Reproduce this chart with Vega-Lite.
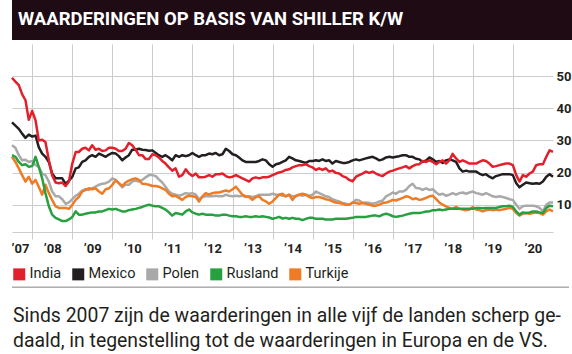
{
  "$schema": "https://vega.github.io/schema/vega-lite/v6.json",
  "padding": 0,
  "spacing": 4,
  "background": "#ffffff",
  "resolve": {"legend": {"color": "independent"}},
  "config": {
    "view": {"stroke": null},
    "font": "Roboto, Liberation Sans, sans-serif",
    "legend": {
      "orient": "bottom", "direction": "horizontal", "title": null,
      "symbolType": "square", "symbolSize": 144, "symbolStrokeWidth": 0,
      "labelFontSize": 14.5, "labelColor": "#231f20", "labelOffset": 3,
      "columnPadding": 9, "offset": 12, "padding": 0
    }
  },
  "datasets": {
    "India": [
      {"t":"2007-07","v":49.5},{"t":"2007-08","v":48.3},{"t":"2007-09","v":47.2},{"t":"2007-10","v":44.4},{"t":"2007-11","v":42.5},{"t":"2007-12","v":36.4},
      {"t":"2008-01","v":39.2},{"t":"2008-02","v":36.2},{"t":"2008-03","v":30.0},{"t":"2008-04","v":30.2},{"t":"2008-05","v":29.5},{"t":"2008-06","v":23.8},{"t":"2008-07","v":19.2},{"t":"2008-08","v":16.9},{"t":"2008-09","v":16.7},{"t":"2008-10","v":16.9},{"t":"2008-11","v":15.8},{"t":"2008-12","v":17.2},
      {"t":"2009-01","v":22.8},{"t":"2009-02","v":26.4},{"t":"2009-03","v":26.4},{"t":"2009-04","v":27.4},{"t":"2009-05","v":27.7},{"t":"2009-06","v":26.9},{"t":"2009-07","v":28.5},{"t":"2009-08","v":27.1},{"t":"2009-09","v":27.4},{"t":"2009-10","v":26.7},{"t":"2009-11","v":26.9},{"t":"2009-12","v":27.7},
      {"t":"2010-01","v":27.7},{"t":"2010-02","v":27.4},{"t":"2010-03","v":26.7},{"t":"2010-04","v":26.7},{"t":"2010-05","v":27.4},{"t":"2010-06","v":29.2},{"t":"2010-07","v":28.5},{"t":"2010-08","v":27.1},{"t":"2010-09","v":25.4},{"t":"2010-10","v":25.4},{"t":"2010-11","v":24.2},{"t":"2010-12","v":24.2},
      {"t":"2011-01","v":25.7},{"t":"2011-02","v":25.4},{"t":"2011-03","v":24.7},{"t":"2011-04","v":23.6},{"t":"2011-05","v":22.8},{"t":"2011-06","v":21.6},{"t":"2011-07","v":20.6},{"t":"2011-08","v":21.3},{"t":"2011-09","v":18.7},{"t":"2011-10","v":19.2},{"t":"2011-11","v":21.0},{"t":"2011-12","v":19.7},
      {"t":"2012-01","v":18.9},{"t":"2012-02","v":19.7},{"t":"2012-03","v":18.5},{"t":"2012-04","v":18.5},{"t":"2012-05","v":18.7},{"t":"2012-06","v":19.2},{"t":"2012-07","v":18.7},{"t":"2012-08","v":19.5},{"t":"2012-09","v":19.5},{"t":"2012-10","v":19.7},{"t":"2012-11","v":18.9},{"t":"2012-12","v":18.5},
      {"t":"2013-01","v":18.7},{"t":"2013-02","v":19.2},{"t":"2013-03","v":18.7},{"t":"2013-04","v":18.2},{"t":"2013-05","v":17.7},{"t":"2013-06","v":17.2},{"t":"2013-07","v":18.2},{"t":"2013-08","v":18.5},{"t":"2013-09","v":18.2},{"t":"2013-10","v":18.5},{"t":"2013-11","v":18.5},{"t":"2013-12","v":18.7},
      {"t":"2014-01","v":19.2},{"t":"2014-02","v":19.7},{"t":"2014-03","v":20.0},{"t":"2014-04","v":20.3},{"t":"2014-05","v":20.8},{"t":"2014-06","v":21.0},{"t":"2014-07","v":21.6},{"t":"2014-08","v":22.0},{"t":"2014-09","v":22.3},{"t":"2014-10","v":22.3},{"t":"2014-11","v":22.6},{"t":"2014-12","v":22.0},
      {"t":"2015-01","v":21.6},{"t":"2015-02","v":20.8},{"t":"2015-03","v":21.3},{"t":"2015-04","v":20.8},{"t":"2015-05","v":21.3},{"t":"2015-06","v":20.3},{"t":"2015-07","v":20.6},{"t":"2015-08","v":19.9},{"t":"2015-09","v":19.7},{"t":"2015-10","v":18.9},{"t":"2015-11","v":18.5},{"t":"2015-12","v":17.7},
      {"t":"2016-01","v":17.3},{"t":"2016-02","v":18.7},{"t":"2016-03","v":19.2},{"t":"2016-04","v":19.7},{"t":"2016-05","v":20.3},{"t":"2016-06","v":19.9},{"t":"2016-07","v":20.3},{"t":"2016-08","v":19.7},{"t":"2016-09","v":19.2},{"t":"2016-10","v":18.9},{"t":"2016-11","v":19.7},{"t":"2016-12","v":20.3},
      {"t":"2017-01","v":20.6},{"t":"2017-02","v":21.0},{"t":"2017-03","v":21.3},{"t":"2017-04","v":21.6},{"t":"2017-05","v":22.0},{"t":"2017-06","v":21.3},{"t":"2017-07","v":22.0},{"t":"2017-08","v":22.5},{"t":"2017-09","v":22.6},{"t":"2017-10","v":23.6},{"t":"2017-11","v":23.3},{"t":"2017-12","v":23.8},
      {"t":"2018-01","v":23.3},{"t":"2018-02","v":22.6},{"t":"2018-03","v":23.3},{"t":"2018-04","v":23.8},{"t":"2018-05","v":22.8},{"t":"2018-06","v":23.8},{"t":"2018-07","v":25.8},{"t":"2018-08","v":24.4},{"t":"2018-09","v":23.3},{"t":"2018-10","v":23.8},{"t":"2018-11","v":23.3},{"t":"2018-12","v":22.8},
      {"t":"2019-01","v":22.8},{"t":"2019-02","v":22.8},{"t":"2019-03","v":23.3},{"t":"2019-04","v":23.8},{"t":"2019-05","v":23.6},{"t":"2019-06","v":22.8},{"t":"2019-07","v":21.8},{"t":"2019-08","v":22.0},{"t":"2019-09","v":22.3},{"t":"2019-10","v":22.6},{"t":"2019-11","v":22.8},{"t":"2019-12","v":22.8},
      {"t":"2020-01","v":22.3},{"t":"2020-02","v":19.2},{"t":"2020-03","v":17.2},{"t":"2020-04","v":19.2},{"t":"2020-05","v":18.7},{"t":"2020-06","v":19.7},{"t":"2020-07","v":20.3},{"t":"2020-08","v":22.3},{"t":"2020-09","v":22.6},{"t":"2020-10","v":22.6},{"t":"2020-11","v":24.9},{"t":"2020-12","v":26.9},
      {"t":"2021-01","v":26.4}
    ],
    "Mexico": [
      {"t":"2007-07","v":35.6},{"t":"2007-08","v":34.6},{"t":"2007-09","v":33.6},{"t":"2007-10","v":32.1},{"t":"2007-11","v":30.8},{"t":"2007-12","v":31.8},
      {"t":"2008-01","v":31.2},{"t":"2008-02","v":31.5},{"t":"2008-03","v":27.9},{"t":"2008-04","v":25.9},{"t":"2008-05","v":24.9},{"t":"2008-06","v":23.3},{"t":"2008-07","v":19.7},{"t":"2008-08","v":18.2},{"t":"2008-09","v":18.2},{"t":"2008-10","v":18.2},{"t":"2008-11","v":16.5},{"t":"2008-12","v":17.5},
      {"t":"2009-01","v":18.7},{"t":"2009-02","v":21.3},{"t":"2009-03","v":21.6},{"t":"2009-04","v":23.3},{"t":"2009-05","v":23.8},{"t":"2009-06","v":24.9},{"t":"2009-07","v":25.4},{"t":"2009-08","v":24.9},{"t":"2009-09","v":25.9},{"t":"2009-10","v":25.4},{"t":"2009-11","v":24.9},{"t":"2009-12","v":25.6},
      {"t":"2010-01","v":26.1},{"t":"2010-02","v":25.9},{"t":"2010-03","v":25.1},{"t":"2010-04","v":23.8},{"t":"2010-05","v":24.7},{"t":"2010-06","v":25.4},{"t":"2010-07","v":27.1},{"t":"2010-08","v":27.1},{"t":"2010-09","v":27.4},{"t":"2010-10","v":27.1},{"t":"2010-11","v":27.0},{"t":"2010-12","v":26.8},
      {"t":"2011-01","v":26.9},{"t":"2011-02","v":26.1},{"t":"2011-03","v":25.4},{"t":"2011-04","v":24.9},{"t":"2011-05","v":25.4},{"t":"2011-06","v":24.7},{"t":"2011-07","v":23.8},{"t":"2011-08","v":25.4},{"t":"2011-09","v":24.9},{"t":"2011-10","v":25.4},{"t":"2011-11","v":25.1},{"t":"2011-12","v":25.4},
      {"t":"2012-01","v":26.1},{"t":"2012-02","v":25.4},{"t":"2012-03","v":24.9},{"t":"2012-04","v":25.4},{"t":"2012-05","v":25.4},{"t":"2012-06","v":25.9},{"t":"2012-07","v":25.7},{"t":"2012-08","v":26.1},{"t":"2012-09","v":25.4},{"t":"2012-10","v":25.7},{"t":"2012-11","v":27.4},{"t":"2012-12","v":26.7},
      {"t":"2013-01","v":25.7},{"t":"2013-02","v":25.4},{"t":"2013-03","v":24.7},{"t":"2013-04","v":23.8},{"t":"2013-05","v":23.3},{"t":"2013-06","v":23.3},{"t":"2013-07","v":23.3},{"t":"2013-08","v":23.3},{"t":"2013-09","v":23.6},{"t":"2013-10","v":24.1},{"t":"2013-11","v":23.8},{"t":"2013-12","v":22.6},
      {"t":"2014-01","v":21.8},{"t":"2014-02","v":22.6},{"t":"2014-03","v":22.8},{"t":"2014-04","v":23.3},{"t":"2014-05","v":23.8},{"t":"2014-06","v":24.9},{"t":"2014-07","v":24.4},{"t":"2014-08","v":23.8},{"t":"2014-09","v":23.6},{"t":"2014-10","v":23.3},{"t":"2014-11","v":23.0},{"t":"2014-12","v":23.6},
      {"t":"2015-01","v":23.6},{"t":"2015-02","v":23.8},{"t":"2015-03","v":23.6},{"t":"2015-04","v":24.1},{"t":"2015-05","v":23.6},{"t":"2015-06","v":23.8},{"t":"2015-07","v":22.8},{"t":"2015-08","v":23.6},{"t":"2015-09","v":23.3},{"t":"2015-10","v":23.0},{"t":"2015-11","v":23.0},{"t":"2015-12","v":23.3},
      {"t":"2016-01","v":23.8},{"t":"2016-02","v":24.1},{"t":"2016-03","v":23.8},{"t":"2016-04","v":24.1},{"t":"2016-05","v":24.4},{"t":"2016-06","v":24.7},{"t":"2016-07","v":24.9},{"t":"2016-08","v":24.4},{"t":"2016-09","v":23.8},{"t":"2016-10","v":24.1},{"t":"2016-11","v":24.7},{"t":"2016-12","v":24.9},
      {"t":"2017-01","v":24.7},{"t":"2017-02","v":24.9},{"t":"2017-03","v":25.1},{"t":"2017-04","v":25.4},{"t":"2017-05","v":25.4},{"t":"2017-06","v":24.9},{"t":"2017-07","v":24.9},{"t":"2017-08","v":24.3},{"t":"2017-09","v":24.1},{"t":"2017-10","v":23.3},{"t":"2017-11","v":23.8},{"t":"2017-12","v":24.7},
      {"t":"2018-01","v":24.1},{"t":"2018-02","v":23.3},{"t":"2018-03","v":23.6},{"t":"2018-04","v":23.0},{"t":"2018-05","v":23.8},{"t":"2018-06","v":24.1},{"t":"2018-07","v":23.8},{"t":"2018-08","v":23.3},{"t":"2018-09","v":21.3},{"t":"2018-10","v":20.3},{"t":"2018-11","v":20.6},{"t":"2018-12","v":20.3},
      {"t":"2019-01","v":20.3},{"t":"2019-02","v":20.3},{"t":"2019-03","v":19.7},{"t":"2019-04","v":19.2},{"t":"2019-05","v":19.5},{"t":"2019-06","v":18.7},{"t":"2019-07","v":18.2},{"t":"2019-08","v":18.9},{"t":"2019-09","v":19.2},{"t":"2019-10","v":19.5},{"t":"2019-11","v":19.5},{"t":"2019-12","v":19.5},
      {"t":"2020-01","v":19.2},{"t":"2020-02","v":16.7},{"t":"2020-03","v":15.4},{"t":"2020-04","v":16.2},{"t":"2020-05","v":16.9},{"t":"2020-06","v":16.7},{"t":"2020-07","v":16.5},{"t":"2020-08","v":16.7},{"t":"2020-09","v":16.5},{"t":"2020-10","v":17.2},{"t":"2020-11","v":18.7},{"t":"2020-12","v":19.5},
      {"t":"2021-01","v":18.7}
    ],
    "Polen": [
      {"t":"2007-07","v":28.5},{"t":"2007-08","v":27.7},{"t":"2007-09","v":25.4},{"t":"2007-10","v":23.8},{"t":"2007-11","v":24.0},{"t":"2007-12","v":23.3},
      {"t":"2008-01","v":23.6},{"t":"2008-02","v":22.3},{"t":"2008-03","v":21.8},{"t":"2008-04","v":19.7},{"t":"2008-05","v":19.2},{"t":"2008-06","v":17.2},{"t":"2008-07","v":14.1},{"t":"2008-08","v":12.6},{"t":"2008-09","v":12.6},{"t":"2008-10","v":11.7},{"t":"2008-11","v":10.3},{"t":"2008-12","v":10.7},
      {"t":"2009-01","v":11.7},{"t":"2009-02","v":12.8},{"t":"2009-03","v":13.4},{"t":"2009-04","v":14.4},{"t":"2009-05","v":14.8},{"t":"2009-06","v":14.6},{"t":"2009-07","v":15.1},{"t":"2009-08","v":15.6},{"t":"2009-09","v":16.2},{"t":"2009-10","v":16.5},{"t":"2009-11","v":16.7},{"t":"2009-12","v":17.2},
      {"t":"2010-01","v":18.2},{"t":"2010-02","v":17.7},{"t":"2010-03","v":16.7},{"t":"2010-04","v":15.4},{"t":"2010-05","v":16.2},{"t":"2010-06","v":16.2},{"t":"2010-07","v":17.2},{"t":"2010-08","v":17.5},{"t":"2010-09","v":17.2},{"t":"2010-10","v":17.7},{"t":"2010-11","v":18.5},{"t":"2010-12","v":19.2},
      {"t":"2011-01","v":19.2},{"t":"2011-02","v":18.9},{"t":"2011-03","v":17.9},{"t":"2011-04","v":16.9},{"t":"2011-05","v":15.6},{"t":"2011-06","v":14.1},{"t":"2011-07","v":13.4},{"t":"2011-08","v":13.1},{"t":"2011-09","v":12.8},{"t":"2011-10","v":13.1},{"t":"2011-11","v":13.6},{"t":"2011-12","v":13.4},
      {"t":"2012-01","v":13.6},{"t":"2012-02","v":13.1},{"t":"2012-03","v":11.7},{"t":"2012-04","v":12.4},{"t":"2012-05","v":12.6},{"t":"2012-06","v":12.6},{"t":"2012-07","v":12.6},{"t":"2012-08","v":12.8},{"t":"2012-09","v":12.6},{"t":"2012-10","v":12.6},{"t":"2012-11","v":13.1},{"t":"2012-12","v":12.8},
      {"t":"2013-01","v":12.6},{"t":"2013-02","v":12.8},{"t":"2013-03","v":12.6},{"t":"2013-04","v":12.8},{"t":"2013-05","v":12.4},{"t":"2013-06","v":12.6},{"t":"2013-07","v":12.4},{"t":"2013-08","v":12.6},{"t":"2013-09","v":13.1},{"t":"2013-10","v":13.1},{"t":"2013-11","v":13.1},{"t":"2013-12","v":13.1},
      {"t":"2014-01","v":13.4},{"t":"2014-02","v":13.1},{"t":"2014-03","v":13.1},{"t":"2014-04","v":12.8},{"t":"2014-05","v":12.6},{"t":"2014-06","v":13.1},{"t":"2014-07","v":12.6},{"t":"2014-08","v":12.6},{"t":"2014-09","v":13.1},{"t":"2014-10","v":12.8},{"t":"2014-11","v":13.1},{"t":"2014-12","v":12.8},
      {"t":"2015-01","v":13.1},{"t":"2015-02","v":14.1},{"t":"2015-03","v":13.6},{"t":"2015-04","v":13.1},{"t":"2015-05","v":12.6},{"t":"2015-06","v":12.4},{"t":"2015-07","v":11.7},{"t":"2015-08","v":11.3},{"t":"2015-09","v":11.0},{"t":"2015-10","v":10.5},{"t":"2015-11","v":10.3},{"t":"2015-12","v":10.0},
      {"t":"2016-01","v":10.7},{"t":"2016-02","v":11.5},{"t":"2016-03","v":11.3},{"t":"2016-04","v":10.5},{"t":"2016-05","v":10.7},{"t":"2016-06","v":10.5},{"t":"2016-07","v":10.3},{"t":"2016-08","v":10.5},{"t":"2016-09","v":11.0},{"t":"2016-10","v":11.3},{"t":"2016-11","v":12.6},{"t":"2016-12","v":13.1},
      {"t":"2017-01","v":13.8},{"t":"2017-02","v":13.4},{"t":"2017-03","v":14.1},{"t":"2017-04","v":14.1},{"t":"2017-05","v":14.6},{"t":"2017-06","v":15.8},{"t":"2017-07","v":16.5},{"t":"2017-08","v":15.2},{"t":"2017-09","v":15.1},{"t":"2017-10","v":14.6},{"t":"2017-11","v":15.1},{"t":"2017-12","v":14.6},
      {"t":"2018-01","v":14.8},{"t":"2018-02","v":13.8},{"t":"2018-03","v":13.1},{"t":"2018-04","v":13.4},{"t":"2018-05","v":12.8},{"t":"2018-06","v":13.1},{"t":"2018-07","v":13.6},{"t":"2018-08","v":13.1},{"t":"2018-09","v":13.6},{"t":"2018-10","v":13.8},{"t":"2018-11","v":13.4},{"t":"2018-12","v":13.8},
      {"t":"2019-01","v":14.1},{"t":"2019-02","v":13.6},{"t":"2019-03","v":13.4},{"t":"2019-04","v":13.1},{"t":"2019-05","v":13.6},{"t":"2019-06","v":13.1},{"t":"2019-07","v":12.6},{"t":"2019-08","v":12.4},{"t":"2019-09","v":12.6},{"t":"2019-10","v":12.4},{"t":"2019-11","v":12.1},{"t":"2019-12","v":11.7},
      {"t":"2020-01","v":11.5},{"t":"2020-02","v":10.0},{"t":"2020-03","v":8.7},{"t":"2020-04","v":9.5},{"t":"2020-05","v":9.7},{"t":"2020-06","v":9.7},{"t":"2020-07","v":9.7},{"t":"2020-08","v":9.5},{"t":"2020-09","v":9.0},{"t":"2020-10","v":7.9},{"t":"2020-11","v":10.0},{"t":"2020-12","v":10.7},
      {"t":"2021-01","v":10.7}
    ],
    "Rusland": [
      {"t":"2007-07","v":25.4},{"t":"2007-08","v":24.9},{"t":"2007-09","v":23.3},{"t":"2007-10","v":22.3},{"t":"2007-11","v":22.6},{"t":"2007-12","v":21.8},
      {"t":"2008-01","v":22.0},{"t":"2008-02","v":24.9},{"t":"2008-03","v":21.8},{"t":"2008-04","v":18.2},{"t":"2008-05","v":13.6},{"t":"2008-06","v":9.5},{"t":"2008-07","v":6.9},{"t":"2008-08","v":5.9},{"t":"2008-09","v":5.4},{"t":"2008-10","v":4.9},{"t":"2008-11","v":4.9},{"t":"2008-12","v":5.4},
      {"t":"2009-01","v":6.2},{"t":"2009-02","v":7.9},{"t":"2009-03","v":6.9},{"t":"2009-04","v":6.9},{"t":"2009-05","v":7.2},{"t":"2009-06","v":7.4},{"t":"2009-07","v":7.6},{"t":"2009-08","v":7.6},{"t":"2009-09","v":7.9},{"t":"2009-10","v":7.9},{"t":"2009-11","v":8.3},{"t":"2009-12","v":8.7},
      {"t":"2010-01","v":8.5},{"t":"2010-02","v":8.7},{"t":"2010-03","v":8.3},{"t":"2010-04","v":7.9},{"t":"2010-05","v":7.9},{"t":"2010-06","v":8.3},{"t":"2010-07","v":8.5},{"t":"2010-08","v":8.7},{"t":"2010-09","v":9.0},{"t":"2010-10","v":9.3},{"t":"2010-11","v":9.7},{"t":"2010-12","v":10.0},
      {"t":"2011-01","v":9.7},{"t":"2011-02","v":9.5},{"t":"2011-03","v":9.5},{"t":"2011-04","v":9.0},{"t":"2011-05","v":8.5},{"t":"2011-06","v":7.6},{"t":"2011-07","v":6.6},{"t":"2011-08","v":7.4},{"t":"2011-09","v":7.2},{"t":"2011-10","v":6.9},{"t":"2011-11","v":7.9},{"t":"2011-12","v":8.5},
      {"t":"2012-01","v":7.6},{"t":"2012-02","v":7.2},{"t":"2012-03","v":6.9},{"t":"2012-04","v":7.2},{"t":"2012-05","v":6.9},{"t":"2012-06","v":6.9},{"t":"2012-07","v":6.9},{"t":"2012-08","v":6.6},{"t":"2012-09","v":6.6},{"t":"2012-10","v":6.9},{"t":"2012-11","v":6.9},{"t":"2012-12","v":6.6},
      {"t":"2013-01","v":6.4},{"t":"2013-02","v":6.4},{"t":"2013-03","v":6.2},{"t":"2013-04","v":6.2},{"t":"2013-05","v":6.4},{"t":"2013-06","v":6.2},{"t":"2013-07","v":6.2},{"t":"2013-08","v":6.4},{"t":"2013-09","v":6.2},{"t":"2013-10","v":6.4},{"t":"2013-11","v":6.2},{"t":"2013-12","v":6.0},
      {"t":"2014-01","v":5.6},{"t":"2014-02","v":5.9},{"t":"2014-03","v":6.2},{"t":"2014-04","v":5.7},{"t":"2014-05","v":5.9},{"t":"2014-06","v":5.6},{"t":"2014-07","v":5.9},{"t":"2014-08","v":5.6},{"t":"2014-09","v":5.6},{"t":"2014-10","v":5.2},{"t":"2014-11","v":5.6},{"t":"2014-12","v":5.9},
      {"t":"2015-01","v":5.9},{"t":"2015-02","v":5.6},{"t":"2015-03","v":5.6},{"t":"2015-04","v":5.6},{"t":"2015-05","v":5.4},{"t":"2015-06","v":5.4},{"t":"2015-07","v":5.4},{"t":"2015-08","v":5.6},{"t":"2015-09","v":5.6},{"t":"2015-10","v":5.6},{"t":"2015-11","v":5.6},{"t":"2015-12","v":5.8},
      {"t":"2016-01","v":5.9},{"t":"2016-02","v":6.2},{"t":"2016-03","v":6.2},{"t":"2016-04","v":6.2},{"t":"2016-05","v":6.2},{"t":"2016-06","v":6.4},{"t":"2016-07","v":6.6},{"t":"2016-08","v":6.6},{"t":"2016-09","v":6.4},{"t":"2016-10","v":6.9},{"t":"2016-11","v":7.2},{"t":"2016-12","v":6.9},
      {"t":"2017-01","v":6.4},{"t":"2017-02","v":6.2},{"t":"2017-03","v":6.4},{"t":"2017-04","v":6.6},{"t":"2017-05","v":6.9},{"t":"2017-06","v":7.2},{"t":"2017-07","v":7.4},{"t":"2017-08","v":7.4},{"t":"2017-09","v":7.4},{"t":"2017-10","v":7.6},{"t":"2017-11","v":7.9},{"t":"2017-12","v":7.9},
      {"t":"2018-01","v":8.3},{"t":"2018-02","v":8.3},{"t":"2018-03","v":8.5},{"t":"2018-04","v":8.3},{"t":"2018-05","v":8.5},{"t":"2018-06","v":8.7},{"t":"2018-07","v":8.7},{"t":"2018-08","v":8.7},{"t":"2018-09","v":8.7},{"t":"2018-10","v":8.7},{"t":"2018-11","v":8.7},{"t":"2018-12","v":8.7},
      {"t":"2019-01","v":8.7},{"t":"2019-02","v":9.0},{"t":"2019-03","v":9.0},{"t":"2019-04","v":8.9},{"t":"2019-05","v":9.0},{"t":"2019-06","v":9.0},{"t":"2019-07","v":9.0},{"t":"2019-08","v":9.0},{"t":"2019-09","v":9.3},{"t":"2019-10","v":9.5},{"t":"2019-11","v":9.5},{"t":"2019-12","v":9.7},
      {"t":"2020-01","v":9.3},{"t":"2020-02","v":7.9},{"t":"2020-03","v":6.9},{"t":"2020-04","v":7.6},{"t":"2020-05","v":7.4},{"t":"2020-06","v":7.6},{"t":"2020-07","v":7.9},{"t":"2020-08","v":7.9},{"t":"2020-09","v":7.6},{"t":"2020-10","v":7.4},{"t":"2020-11","v":9.0},{"t":"2020-12","v":9.7},
      {"t":"2021-01","v":9.5}
    ],
    "Turkije": [
      {"t":"2007-07","v":24.9},{"t":"2007-08","v":23.3},{"t":"2007-09","v":21.3},{"t":"2007-10","v":19.2},{"t":"2007-11","v":17.2},{"t":"2007-12","v":18.7},
      {"t":"2008-01","v":16.5},{"t":"2008-02","v":17.7},{"t":"2008-03","v":15.6},{"t":"2008-04","v":13.1},{"t":"2008-05","v":16.2},{"t":"2008-06","v":13.6},{"t":"2008-07","v":11.5},{"t":"2008-08","v":9.5},{"t":"2008-09","v":9.0},{"t":"2008-10","v":9.0},{"t":"2008-11","v":9.0},{"t":"2008-12","v":8.7},
      {"t":"2009-01","v":10.0},{"t":"2009-02","v":11.5},{"t":"2009-03","v":12.4},{"t":"2009-04","v":14.1},{"t":"2009-05","v":14.6},{"t":"2009-06","v":15.1},{"t":"2009-07","v":14.8},{"t":"2009-08","v":15.1},{"t":"2009-09","v":14.1},{"t":"2009-10","v":13.4},{"t":"2009-11","v":14.8},{"t":"2009-12","v":15.1},
      {"t":"2010-01","v":16.2},{"t":"2010-02","v":17.5},{"t":"2010-03","v":16.7},{"t":"2010-04","v":15.8},{"t":"2010-05","v":16.9},{"t":"2010-06","v":17.5},{"t":"2010-07","v":17.9},{"t":"2010-08","v":18.2},{"t":"2010-09","v":17.7},{"t":"2010-10","v":16.5},{"t":"2010-11","v":16.4},{"t":"2010-12","v":16.2},
      {"t":"2011-01","v":15.8},{"t":"2011-02","v":15.8},{"t":"2011-03","v":15.6},{"t":"2011-04","v":15.1},{"t":"2011-05","v":14.6},{"t":"2011-06","v":13.4},{"t":"2011-07","v":12.6},{"t":"2011-08","v":12.8},{"t":"2011-09","v":12.1},{"t":"2011-10","v":11.5},{"t":"2011-11","v":12.4},{"t":"2011-12","v":12.8},
      {"t":"2012-01","v":12.6},{"t":"2012-02","v":12.4},{"t":"2012-03","v":11.0},{"t":"2012-04","v":12.6},{"t":"2012-05","v":13.6},{"t":"2012-06","v":13.1},{"t":"2012-07","v":13.6},{"t":"2012-08","v":13.8},{"t":"2012-09","v":13.8},{"t":"2012-10","v":14.1},{"t":"2012-11","v":14.4},{"t":"2012-12","v":14.1},
      {"t":"2013-01","v":14.8},{"t":"2013-02","v":15.6},{"t":"2013-03","v":14.4},{"t":"2013-04","v":13.1},{"t":"2013-05","v":12.6},{"t":"2013-06","v":12.4},{"t":"2013-07","v":11.5},{"t":"2013-08","v":12.4},{"t":"2013-09","v":12.6},{"t":"2013-10","v":11.5},{"t":"2013-11","v":11.0},{"t":"2013-12","v":10.3},
      {"t":"2014-01","v":11.0},{"t":"2014-02","v":12.1},{"t":"2014-03","v":13.1},{"t":"2014-04","v":13.4},{"t":"2014-05","v":12.6},{"t":"2014-06","v":13.1},{"t":"2014-07","v":11.5},{"t":"2014-08","v":12.8},{"t":"2014-09","v":13.1},{"t":"2014-10","v":13.4},{"t":"2014-11","v":13.1},{"t":"2014-12","v":12.4},
      {"t":"2015-01","v":12.1},{"t":"2015-02","v":12.4},{"t":"2015-03","v":12.4},{"t":"2015-04","v":12.1},{"t":"2015-05","v":11.7},{"t":"2015-06","v":11.5},{"t":"2015-07","v":11.0},{"t":"2015-08","v":10.7},{"t":"2015-09","v":10.5},{"t":"2015-10","v":10.3},{"t":"2015-11","v":10.0},{"t":"2015-12","v":10.0},
      {"t":"2016-01","v":10.7},{"t":"2016-02","v":10.5},{"t":"2016-03","v":10.3},{"t":"2016-04","v":10.5},{"t":"2016-05","v":10.3},{"t":"2016-06","v":10.0},{"t":"2016-07","v":9.7},{"t":"2016-08","v":9.7},{"t":"2016-09","v":10.0},{"t":"2016-10","v":10.5},{"t":"2016-11","v":10.7},{"t":"2016-12","v":11.0},
      {"t":"2017-01","v":11.5},{"t":"2017-02","v":11.3},{"t":"2017-03","v":11.7},{"t":"2017-04","v":12.1},{"t":"2017-05","v":12.6},{"t":"2017-06","v":12.4},{"t":"2017-07","v":11.7},{"t":"2017-08","v":12.0},{"t":"2017-09","v":11.5},{"t":"2017-10","v":11.7},{"t":"2017-11","v":12.1},{"t":"2017-12","v":12.6},
      {"t":"2018-01","v":12.8},{"t":"2018-02","v":11.7},{"t":"2018-03","v":10.7},{"t":"2018-04","v":10.0},{"t":"2018-05","v":9.5},{"t":"2018-06","v":9.0},{"t":"2018-07","v":8.7},{"t":"2018-08","v":9.3},{"t":"2018-09","v":8.7},{"t":"2018-10","v":8.5},{"t":"2018-11","v":8.3},{"t":"2018-12","v":8.5},
      {"t":"2019-01","v":9.3},{"t":"2019-02","v":8.5},{"t":"2019-03","v":8.3},{"t":"2019-04","v":7.9},{"t":"2019-05","v":8.3},{"t":"2019-06","v":8.5},{"t":"2019-07","v":8.3},{"t":"2019-08","v":8.5},{"t":"2019-09","v":8.3},{"t":"2019-10","v":8.5},{"t":"2019-11","v":8.7},{"t":"2019-12","v":9.0},
      {"t":"2020-01","v":8.7},{"t":"2020-02","v":7.4},{"t":"2020-03","v":6.6},{"t":"2020-04","v":7.2},{"t":"2020-05","v":7.4},{"t":"2020-06","v":7.2},{"t":"2020-07","v":7.4},{"t":"2020-08","v":7.6},{"t":"2020-09","v":7.4},{"t":"2020-10","v":6.9},{"t":"2020-11","v":7.9},{"t":"2020-12","v":8.5},
      {"t":"2021-01","v":7.9}
    ]
  },
  "vconcat": [
    {
      "width": 572, "height": 40,
      "view": {"fill": "#1e0b14", "stroke": null},
      "data": {"values": [{"titel": "WAARDERINGEN OP BASIS VAN SHILLER K/W"}]},
      "mark": {"type": "text", "align": "left", "baseline": "alphabetic", "dx": 6, "dy": 5, "color": "#ffffff", "fontSize": 18.5, "fontWeight": "bold"},
      "encoding": {
        "x": {"datum": 0, "type": "quantitative", "scale": {"domain": [0, 1]}, "axis": null},
        "text": {"field": "titel", "type": "nominal"}
      }
    },
    {
      "width": 541, "height": 188,
      "encoding": {
        "x": {
          "field": "t", "type": "temporal",
          "scale": {"type": "utc", "domain": [{"year": 2007, "month": 7, "date": 1, "utc": true}, {"year": 2021, "month": 1, "date": 1, "utc": true}]},
          "axis": {
            "title": null,
            "values": [
              {"year": 2007, "month": 7, "date": 1, "utc": true},
              {"year": 2008, "month": 1, "date": 1, "utc": true},
              {"year": 2009, "month": 1, "date": 1, "utc": true},
              {"year": 2010, "month": 1, "date": 1, "utc": true},
              {"year": 2011, "month": 1, "date": 1, "utc": true},
              {"year": 2012, "month": 1, "date": 1, "utc": true},
              {"year": 2013, "month": 1, "date": 1, "utc": true},
              {"year": 2014, "month": 1, "date": 1, "utc": true},
              {"year": 2015, "month": 1, "date": 1, "utc": true},
              {"year": 2016, "month": 1, "date": 1, "utc": true},
              {"year": 2017, "month": 1, "date": 1, "utc": true},
              {"year": 2018, "month": 1, "date": 1, "utc": true},
              {"year": 2019, "month": 1, "date": 1, "utc": true},
              {"year": 2020, "month": 1, "date": 1, "utc": true}
            ],
            "labelExpr": "'’' + utcFormat(datum.value, '%y')",
            "labelOffset": {"condition": {"test": "utcyear(datum.value) < 2008", "value": 8}, "value": 20},
            "gridOpacity": {"condition": {"test": "utcyear(datum.value) < 2008", "value": 0}, "value": 1},
            "tickOpacity": {"condition": {"test": "utcyear(datum.value) < 2008", "value": 0}, "value": 1},
            "grid": true, "gridColor": "#cccccc", "gridWidth": 1,
            "domainColor": "#cccccc", "domainWidth": 1,
            "ticks": true, "tickColor": "#cccccc", "tickSize": 7,
            "labelFlush": false, "labelOverlap": false, "labelBound": false,
            "labelAlign": "center", "labelPadding": 3,
            "labelFontSize": 13, "labelFontWeight": "bold", "labelColor": "#231f20"
          }
        }
      },
      "layer": [
        {
          "data": {"name": "Polen"},
          "mark": {"type": "line", "strokeWidth": 2.5, "strokeJoin": "round"},
          "encoding": {
            "y": {"field": "v", "type": "quantitative", "scale": {"domain": [1.5, 60], "nice": false, "zero": false}, "axis": null},
            "color": {"datum": "Polen", "type": "nominal",
              "scale": {"domain": ["India", "Mexico", "Polen", "Rusland", "Turkije"], "range": ["#e2202c", "#231f20", "#a9a9a9", "#27a040", "#ef7b25"]},
              "legend": {"encode": {"symbols": {"update": {"fill": {"scale": "color", "field": "value"}, "strokeWidth": {"value": 0}}}}}}
          }
        },
        {
          "data": {"name": "Turkije"},
          "mark": {"type": "line", "strokeWidth": 2.5, "strokeJoin": "round"},
          "encoding": {
            "y": {"field": "v", "type": "quantitative", "scale": {"domain": [1.5, 60], "nice": false, "zero": false}, "axis": null},
            "color": {"datum": "Turkije", "type": "nominal",
              "scale": {"domain": ["India", "Mexico", "Polen", "Rusland", "Turkije"], "range": ["#e2202c", "#231f20", "#a9a9a9", "#27a040", "#ef7b25"]},
              "legend": {"encode": {"symbols": {"update": {"fill": {"scale": "color", "field": "value"}, "strokeWidth": {"value": 0}}}}}}
          }
        },
        {
          "data": {"name": "Rusland"},
          "mark": {"type": "line", "strokeWidth": 2.5, "strokeJoin": "round"},
          "encoding": {
            "y": {"field": "v", "type": "quantitative", "scale": {"domain": [1.5, 60], "nice": false, "zero": false}, "axis": null},
            "color": {"datum": "Rusland", "type": "nominal",
              "scale": {"domain": ["India", "Mexico", "Polen", "Rusland", "Turkije"], "range": ["#e2202c", "#231f20", "#a9a9a9", "#27a040", "#ef7b25"]},
              "legend": {"encode": {"symbols": {"update": {"fill": {"scale": "color", "field": "value"}, "strokeWidth": {"value": 0}}}}}}
          }
        },
        {
          "data": {"name": "Mexico"},
          "mark": {"type": "line", "strokeWidth": 2.5, "strokeJoin": "round"},
          "encoding": {
            "y": {"field": "v", "type": "quantitative", "scale": {"domain": [1.5, 60], "nice": false, "zero": false},
              "axis": {"orient": "right", "title": null, "values": [10, 20, 30, 40, 50], "grid": true, "gridColor": "#cccccc", "domain": false, "ticks": false,
                "labelPadding": 3, "labelAlign": "left", "labelFontSize": 13, "labelFontWeight": "bold", "labelColor": "#231f20"}},
            "color": {"datum": "Mexico", "type": "nominal",
              "scale": {"domain": ["India", "Mexico", "Polen", "Rusland", "Turkije"], "range": ["#e2202c", "#231f20", "#a9a9a9", "#27a040", "#ef7b25"]},
              "legend": {"encode": {"symbols": {"update": {"fill": {"scale": "color", "field": "value"}, "strokeWidth": {"value": 0}}}}}}
          }
        },
        {
          "data": {"name": "India"},
          "mark": {"type": "line", "strokeWidth": 2.5, "strokeJoin": "round"},
          "encoding": {
            "y": {"field": "v", "type": "quantitative", "scale": {"domain": [1.5, 60], "nice": false, "zero": false},
              "axis": {"orient": "left", "title": null, "grid": false, "domain": false, "ticks": false, "labels": false, "minExtent": 12, "maxExtent": 12}},
            "color": {"datum": "India", "type": "nominal",
              "scale": {"domain": ["India", "Mexico", "Polen", "Rusland", "Turkije"], "range": ["#e2202c", "#231f20", "#a9a9a9", "#27a040", "#ef7b25"]},
              "legend": {"encode": {"symbols": {"update": {"fill": {"scale": "color", "field": "value"}, "strokeWidth": {"value": 0}}}}}}
          }
        }
      ],
      "resolve": {"axis": {"y": "independent"}}
    },
    {
      "width": 557, "height": 62,
      "data": {"values": [
        {"regel": 1, "tekst": "Sinds 2007 zijn de waarderingen in alle vijf de landen scherp ge-"},
        {"regel": 2, "tekst": "daald, in tegenstelling tot de waarderingen in Europa en de VS."}
      ]},
      "encoding": {
        "y": {"field": "regel", "type": "quantitative", "scale": {"domain": [2.0, -0.53], "nice": false, "zero": false},
          "axis": {"orient": "left", "title": null, "domain": false, "ticks": false, "labels": false, "grid": false, "minExtent": 9, "maxExtent": 9}}
      },
      "layer": [
        {
          "mark": {"type": "rule", "color": "#a8a8a8", "strokeWidth": 1},
          "encoding": {
            "x": {"datum": 0, "type": "quantitative", "scale": {"domain": [0, 1]}, "axis": null},
            "x2": {"datum": 1},
            "y": {"datum": -0.44, "type": "quantitative"}
          }
        },
        {
          "mark": {"type": "text", "align": "left", "baseline": "alphabetic", "dx": 1, "fontSize": 19.4, "color": "#231f20"},
          "encoding": {
            "x": {"datum": 0, "type": "quantitative", "scale": {"domain": [0, 1]}, "axis": null},
            "text": {"field": "tekst", "type": "nominal"}
          }
        }
      ]
    }
  ]
}
